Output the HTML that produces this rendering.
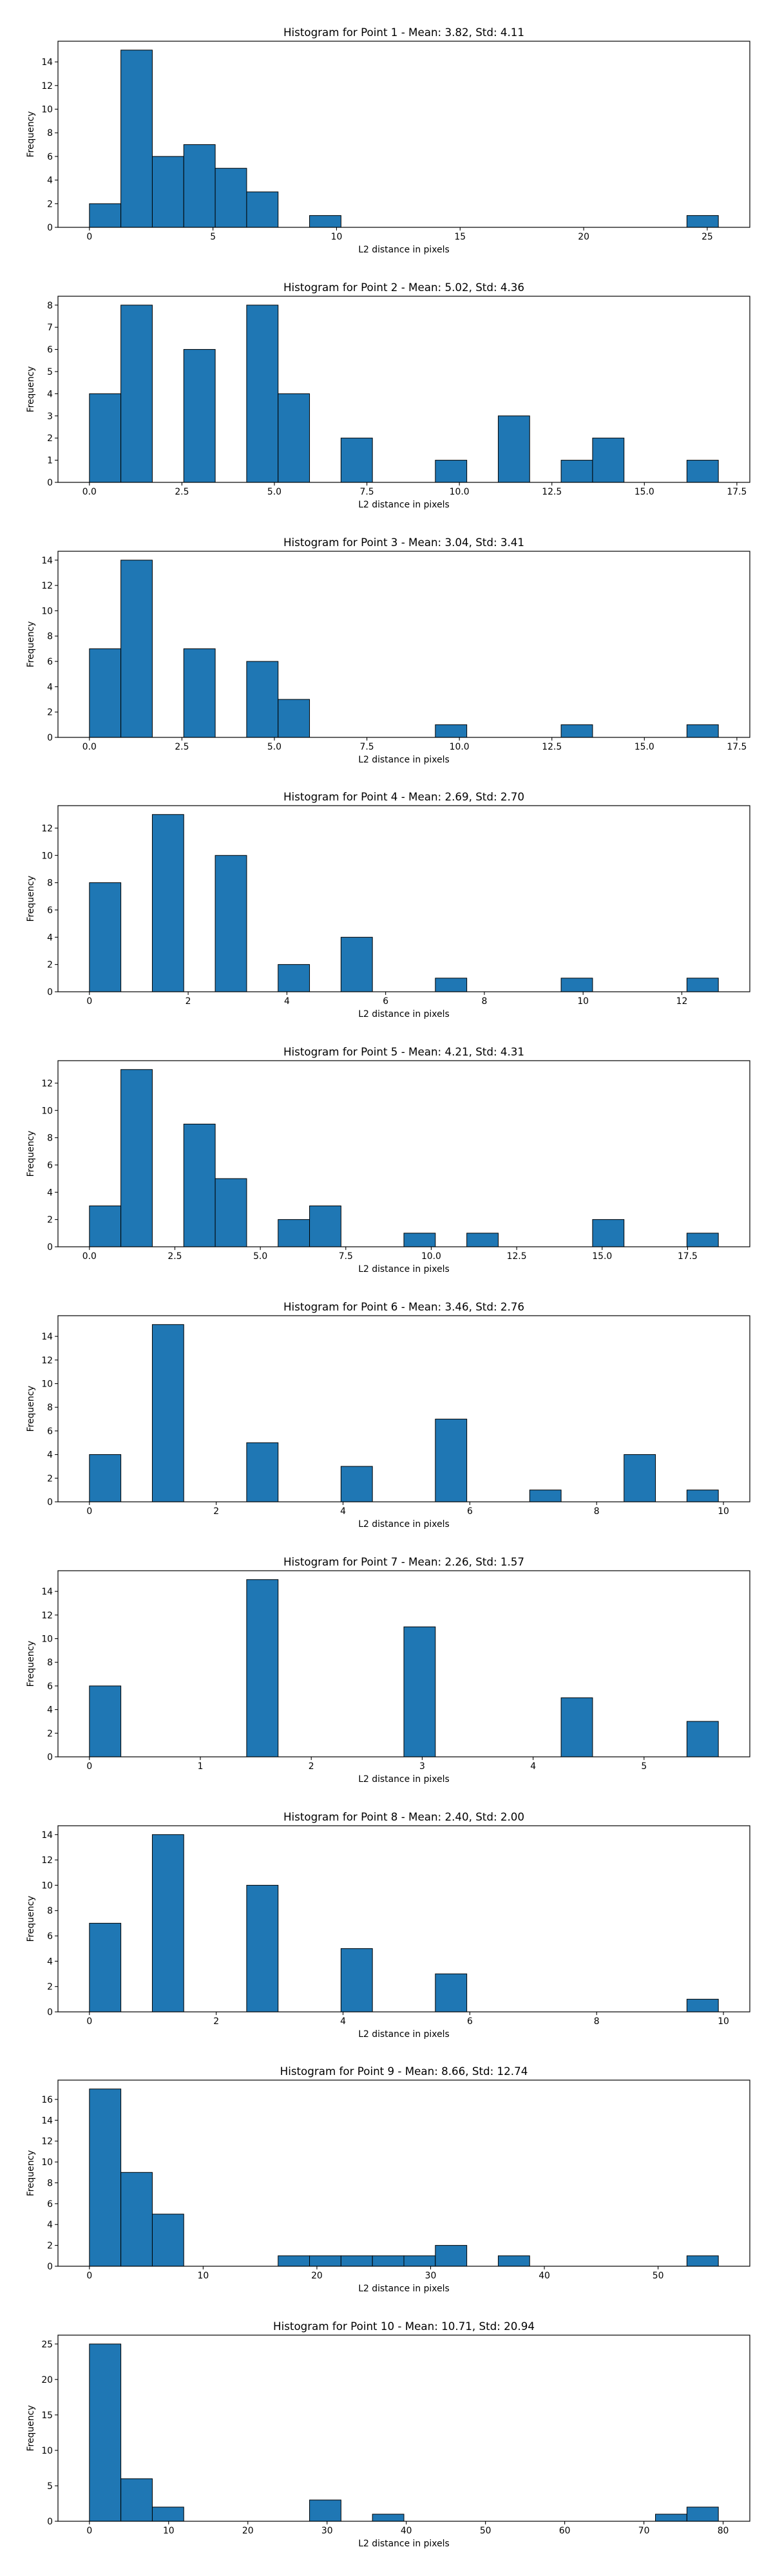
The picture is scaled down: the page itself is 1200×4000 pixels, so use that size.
<!DOCTYPE html>
<html><head><meta charset="utf-8"><style>
html,body{margin:0;padding:0;background:#fff;}
svg{display:block;}
text{font-family:"DejaVu Sans","Liberation Sans",sans-serif;fill:#000;}
</style></head><body>
<svg id="fig" width="1200" height="4000" viewBox="0 0 1200 4000" xmlns="http://www.w3.org/2000/svg"></svg>
<script>
const titles = [
 "Histogram for Point 1 - Mean: 3.82, Std: 4.11",
 "Histogram for Point 2 - Mean: 5.02, Std: 4.36",
 "Histogram for Point 3 - Mean: 3.04, Std: 3.41",
 "Histogram for Point 4 - Mean: 2.69, Std: 2.70",
 "Histogram for Point 5 - Mean: 4.21, Std: 4.31",
 "Histogram for Point 6 - Mean: 3.46, Std: 2.76",
 "Histogram for Point 7 - Mean: 2.26, Std: 1.57",
 "Histogram for Point 8 - Mean: 2.40, Std: 2.00",
 "Histogram for Point 9 - Mean: 8.66, Std: 12.74",
 "Histogram for Point 10 - Mean: 10.71, Std: 20.94"
];
const binMin = [0,0,0,0,0,0,0,0,0,0];
const binMax = [25.45,17.0,17.0,12.74,18.4,9.92,5.67,9.92,55.3,79.4];
const counts1 = [2,15,6,7,5,3,0,1,0,0,0,0,0,0,0,0,0,0,0,1];
const counts2 = [4,8,0,6,0,8,4,0,2,0,0,1,0,3,0,1,2,0,0,1];
const counts3 = [7,14,0,7,0,6,3,0,0,0,0,1,0,0,0,1,0,0,0,1];
const counts4 = [8,0,13,0,10,0,2,0,4,0,0,1,0,0,0,1,0,0,0,1];
const counts5 = [3,13,0,9,5,0,2,3,0,0,1,0,1,0,0,0,2,0,0,1];
const counts6 = [4,0,15,0,0,5,0,0,3,0,0,7,0,0,1,0,0,4,0,1];
const counts7 = [6,0,0,0,0,15,0,0,0,0,11,0,0,0,0,5,0,0,0,3];
const counts8 = [7,0,14,0,0,10,0,0,5,0,0,3,0,0,0,0,0,0,0,1];
const counts9 = [17,9,5,0,0,0,1,1,1,1,1,2,0,1,0,0,0,0,0,1];
const counts10 = [25,6,2,0,0,0,0,3,0,1,0,0,0,0,0,0,0,0,1,2];
const allCounts = [counts1,counts2,counts3,counts4,counts5,counts6,counts7,counts8,counts9,counts10];
const xTicks = [
 [0,5,10,15,20,25],[0,2.5,5,7.5,10,12.5,15,17.5],[0,2.5,5,7.5,10,12.5,15,17.5],
 [0,2,4,6,8,10,12],[0,2.5,5,7.5,10,12.5,15,17.5],[0,2,4,6,8,10],[0,1,2,3,4,5],
 [0,2,4,6,8,10],[0,10,20,30,40,50],[0,10,20,30,40,50,60,70,80]
];
const xDecimals = [0,1,1,0,1,0,0,0,0,0];
const yStep = [2,1,2,2,2,2,2,2,2,5];

const NS="http://www.w3.org/2000/svg";
const svg=document.getElementById('fig');
function mk(tag,attrs,parent){const e=document.createElementNS(NS,tag);for(const k in attrs)e.setAttribute(k,attrs[k]);parent.appendChild(e);return e;}
const L=90,R=1164,H=289;
for(let p=0;p<10;p++){
  const top=Math.round(64+395.8*p), bot=top+H;
  const g=mk('g',{},svg);
  
  
  const c=allCounts[p];
  const mn=binMin[p], mx=binMax[p], rng=mx-mn;
  const x0=mn-0.05*rng, x1=mx+0.05*rng;
  const ymax=Math.max(...c)*1.05;
  const sx=v=>L+(v-x0)/(x1-x0)*(R-L);
  const sy=v=>bot-v/ymax*H;
  const bw=rng/c.length;
  for(let i=0;i<c.length;i++){
    if(c[i]<=0)continue;
    const a=sx(mn+i*bw), b=sx(mn+(i+1)*bw);
    const r=mk('rect',{x:a,y:sy(c[i]),width:b-a,height:sy(0)-sy(c[i]),fill:'#1f77b4',stroke:'#000','stroke-width':1},g);
    
    
  }
  const fr=mk('rect',{x:L,y:top,width:R-L,height:H,fill:'none',stroke:'#000','stroke-width':1.2},g);
  
  
  // x ticks
  xTicks[p].forEach(t=>{
    const x=sx(t);
    mk('line',{x1:x,x2:x,y1:bot,y2:bot+4.9,stroke:'#000','stroke-width':1.1},g);
    const tx=mk('text',{x:x,y:bot+19,'font-size':13.9,'text-anchor':'middle'},g);
    tx.textContent=t.toFixed(xDecimals[p]);
    
    
  });
  // y ticks
  for(let v=0;v<=ymax;v+=yStep[p]){
    const y=sy(v);
    mk('line',{x1:L-4.9,x2:L,y1:y,y2:y,stroke:'#000','stroke-width':1.1},g);
    const ty=mk('text',{x:L-8,y:y+5,'font-size':13.9,'text-anchor':'end'},g);
    ty.textContent=String(v);
    
    
  }
  const tt=mk('text',{x:(L+R)/2,y:top-8,'font-size':16.7,'text-anchor':'middle'},g);
  tt.textContent=titles[p];
  
  
  const xl=mk('text',{x:(L+R)/2,y:bot+39,'font-size':13.9,'text-anchor':'middle'},g);
  xl.textContent='L2 distance in pixels';
  
  
  const cy=top+H/2;
  const yl=mk('text',{x:52,y:cy,'font-size':13.9,'text-anchor':'middle',transform:'rotate(-90 52 '+cy+')'},g);
  yl.textContent='Frequency';
  
  
}
</script>
</body></html>
